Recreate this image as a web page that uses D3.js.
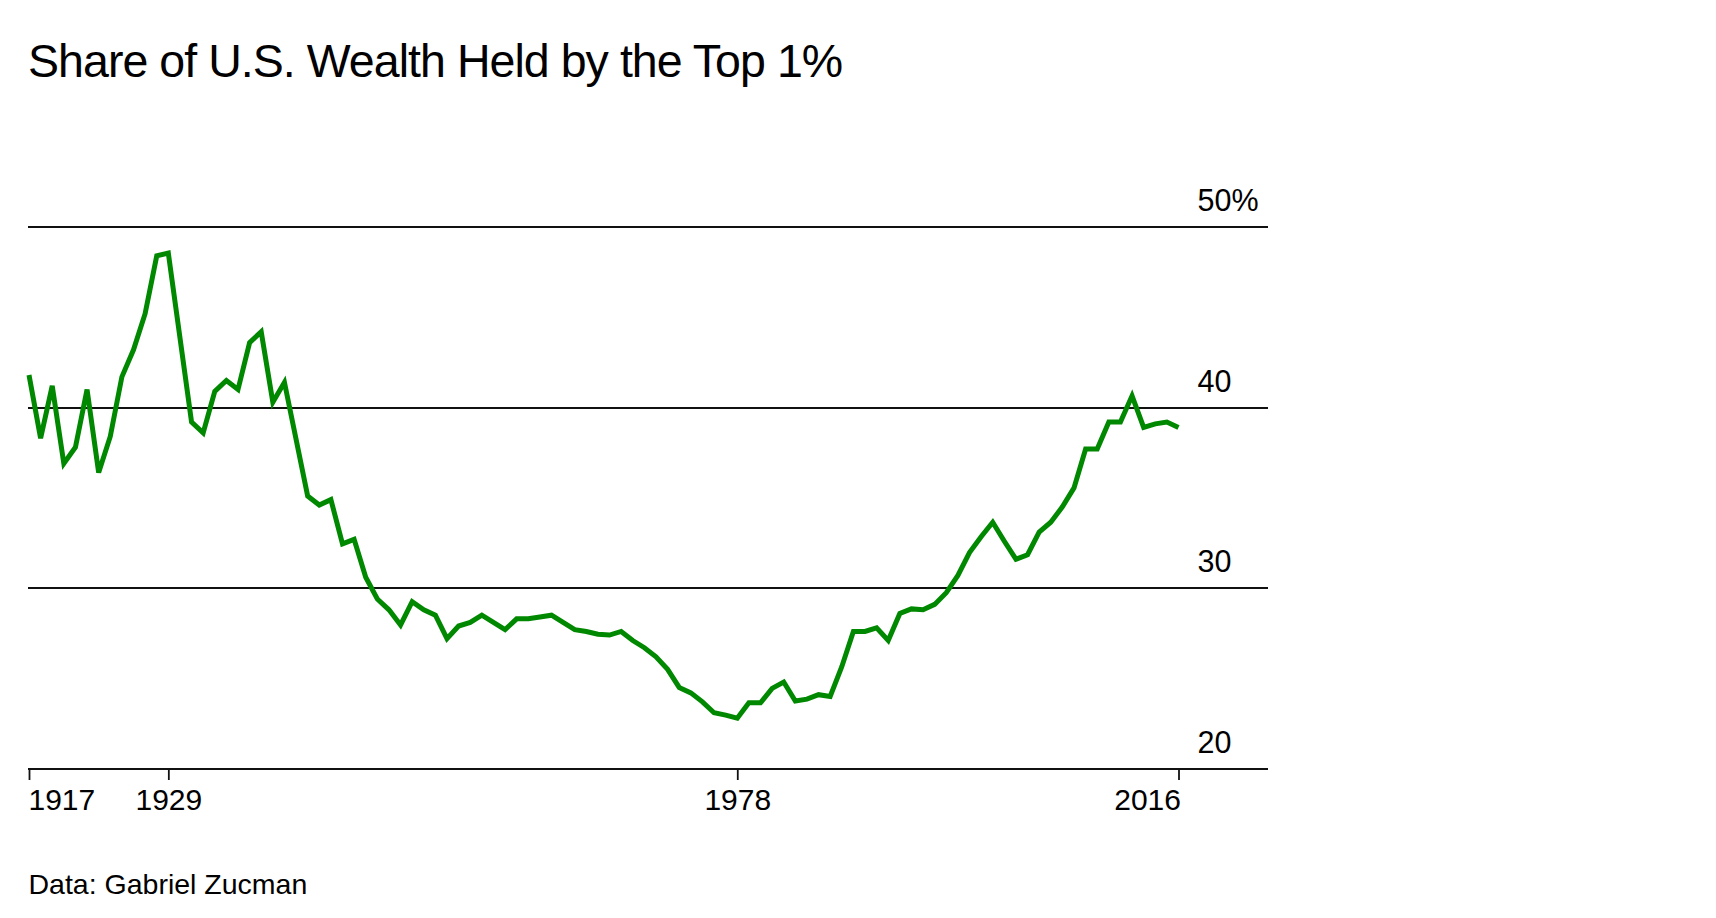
<!DOCTYPE html>
<html>
<head>
<meta charset="utf-8">
<script src="https://cdn.jsdelivr.net/npm/d3@7"></script>
<style>
  html, body { margin: 0; padding: 0; background: #fff; }
  svg { display: block; font-family: "Liberation Sans", Arial, Helvetica, sans-serif; }
</style>
</head>
<body>
<svg id="chart" width="1716" height="918"></svg>
<script>
// ---- Data ----
const title = "Share of U.S. Wealth Held by the Top 1%";
const source = "Data: Gabriel Zucman";

const years = [
  1917, 1918, 1919, 1920, 1921, 1922, 1923, 1924, 1925, 1926, 1927, 1928, 1929,
  1931, 1932, 1933, 1934, 1935, 1936, 1937, 1938, 1939,
  1941, 1942, 1943, 1944, 1945, 1946, 1947, 1948, 1949, 1950,
  1951, 1952, 1953, 1954, 1955, 1956, 1957, 1958, 1959, 1960,
  1961, 1962, 1963, 1964, 1965, 1966, 1967, 1968, 1969, 1970,
  1971, 1972, 1973, 1974, 1975, 1976, 1977, 1978, 1979, 1980,
  1981, 1982, 1983, 1984, 1985, 1986, 1987, 1988, 1989, 1990,
  1991, 1992, 1993, 1994, 1995, 1996, 1997, 1998, 1999, 2000,
  2001, 2002, 2003, 2004, 2005, 2006, 2007, 2008, 2009, 2010,
  2011, 2012, 2013, 2014, 2015, 2016
];

const topShare = [
  41.8, 38.3, 41.2, 36.9, 37.8, 41.0, 36.4, 38.4, 41.7, 43.2, 45.2, 48.4, 48.55,
  39.2, 38.6, 40.9, 41.5, 41.0, 43.6, 44.2, 40.3, 41.4,
  35.1, 34.6, 34.9, 32.45, 32.7, 30.6, 29.4, 28.8, 27.96, 29.25,
  28.8, 28.5, 27.2, 27.9, 28.1, 28.5, 28.1, 27.7, 28.3, 28.3,
  28.4, 28.5, 28.1, 27.7, 27.6, 27.45, 27.4, 27.6, 27.1, 26.7,
  26.2, 25.5, 24.5, 24.2, 23.7, 23.1, 22.97, 22.8, 23.65, 23.65,
  24.45, 24.8, 23.75, 23.85, 24.1, 24.0, 25.65, 27.6, 27.6, 27.8,
  27.1, 28.6, 28.85, 28.8, 29.1, 29.75, 30.7, 31.97, 32.85, 33.65,
  32.6, 31.6, 31.85, 33.1, 33.65, 34.5, 35.55, 37.7, 37.7, 39.2,
  39.2, 40.65, 38.9, 39.1, 39.2, 38.9
];

const xTicks = [1917, 1929, 1978, 2016];
const yTicks = [20, 30, 40, 50];
const yTickLabels = ["20", "30", "40", "50%"];

// ---- Layout ----
const svg = d3.select("#chart");
const gridLeft = 28, gridRight = 1268;

const x = d3.scaleLinear().domain([1917, 2016]).range([29, 1178.5]);
const y = d3.scaleLinear().domain([20, 50]).range([768.7, 227]);

// Title
svg.append("text")
  .attr("x", 28).attr("y", 77)
  .attr("font-size", 46.5).attr("letter-spacing", -0.95)
  .attr("fill", "#000")
  .text(title);

// Horizontal gridlines (the 20 line is the baseline)
const grid = svg.append("g");
grid.selectAll("line")
  .data(yTicks)
  .join("line")
  .attr("x1", gridLeft).attr("x2", gridRight)
  .attr("y1", d => Math.round(y(d))).attr("y2", d => Math.round(y(d)))
  .attr("stroke", "#111").attr("stroke-width", 2);

// Y labels, left-aligned above each gridline at the right
grid.selectAll("text")
  .data(yTicks)
  .join("text")
  .attr("x", 1197.5)
  .attr("y", d => y(d) - 16)
  .attr("font-size", 30.5)
  .attr("fill", "#000")
  .text((d, i) => yTickLabels[i]);

// X axis ticks + labels
const xAxis = d3.axisBottom(x)
  .tickValues(xTicks)
  .tickFormat(d3.format("d"))
  .tickSize(11)
  .tickSizeOuter(0);

const gx = svg.append("g")
  .attr("transform", `translate(0,${Math.round(y(20))})`)
  .call(xAxis);
gx.select(".domain").remove();
gx.selectAll(".tick line").attr("stroke", "#111").attr("stroke-width", 1.8);
gx.selectAll(".tick text")
  .attr("font-family", "Liberation Sans, Arial, sans-serif")
  .attr("font-size", 30)
  .attr("fill", "#000")
  .attr("y", 19)
  .attr("dy", "0.72em")
  .attr("text-anchor", (d, i) => i === 0 ? "start" : (i === xTicks.length - 1 ? "end" : "middle"))
  .attr("dx", (d, i) => i === 0 ? -1 : (i === xTicks.length - 1 ? 2 : 0));

// Line
const pts = years.map((yr, i) => [yr, topShare[i]]);
const line = d3.line()
  .x(d => x(d[0]))
  .y(d => y(d[1]));

svg.append("path")
  .datum(pts)
  .attr("d", line)
  .attr("fill", "none")
  .attr("stroke", "#008800")
  .attr("stroke-width", 5)
  .attr("stroke-linejoin", "miter")
  .attr("stroke-linecap", "butt");

// Source
svg.append("text")
  .attr("x", 28.5).attr("y", 894)
  .attr("font-size", 28.5)
  .attr("fill", "#000")
  .text(source);
</script>
</body>
</html>
